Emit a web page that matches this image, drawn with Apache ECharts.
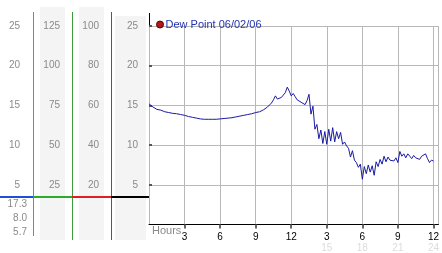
<!DOCTYPE html>
<html><head><meta charset="utf-8">
<script src="https://cdn.jsdelivr.net/npm/echarts@6/dist/echarts.min.js"></script>
<style>html,body{margin:0;padding:0;background:#fff}#c{width:442px;height:253px}</style>
</head><body><div id="c"></div>
<script>
const seriesName = 'Dew Point 06/02/06';
const sampleMinutes = 10;
const dewPoint = [
  15.2, 15.0, 14.8, 14.6, 14.5, 14.4,
  14.4, 14.3, 14.2, 14.1, 14.1, 14.0,
  14.0, 14.0, 13.95, 13.9, 13.85, 13.8,
  13.75, 13.7, 13.6, 13.55, 13.5, 13.45,
  13.4, 13.35, 13.3, 13.3, 13.25, 13.25,
  13.25, 13.25, 13.25, 13.25, 13.25, 13.3,
  13.3, 13.3, 13.35, 13.35, 13.4, 13.4,
  13.45, 13.5, 13.55, 13.6, 13.65, 13.7,
  13.75, 13.8, 13.85, 13.9, 13.95, 14.0,
  14.1, 14.15, 14.2, 14.35, 14.45, 14.55,
  14.8, 15.0, 15.3, 15.7, 16.2, 15.8,
  15.7, 16.0, 16.3, 16.6, 17.3, 16.8,
  16.2, 16.5, 16.1, 15.7, 15.5, 15.4,
  15.3, 15.1, 15.6, 16.4, 13.9, 14.9,
  12.0, 12.6, 10.8, 11.9, 10.2, 11.7,
  10.1, 12.0, 10.5, 12.2, 10.4, 11.7,
  10.8, 11.6, 10.1, 10.4, 9.9, 9.6,
  8.5, 9.3, 8.1, 7.8, 7.2, 7.6,
  5.7, 7.3, 6.4, 7.5, 6.6, 7.4,
  6.2, 7.9, 7.3, 8.2, 7.6, 8.6,
  7.9, 8.5, 8.1, 8.3, 8.0, 8.4,
  7.8, 9.2, 8.6, 8.9, 8.4, 8.9,
  8.6, 8.3, 8.7, 8.4, 8.5, 8.2,
  8.6, 8.5, 8.9, 8.3, 7.8, 8.1,
  8.0
];
const hourTicksTop = {3:'3',6:'6',9:'9',12:'12',15:'3',18:'6',21:'9',24:'12'};
const hourTicksBottom = {15:'15',18:'18',21:'21',24:'24'};
const statValues = ['17.3', '8.0', '5.7'];
const axisCol1 = {min:0, max:25, interval:5};
const axisCol2 = {min:0, max:125, interval:25};
const axisCol3 = {min:0, max:100, interval:20};
const axisCol4 = {min:0, max:25, interval:5};

const points = dewPoint.map((v, i) => [i * sampleMinutes / 60, v]);
const FONT = 'Liberation Sans';
const labelGray = '#8a8a8a';

function leftAxis(cfg, offset, margin) {
  return {
    type: 'value', position: 'left', offset: offset,
    min: cfg.min, max: cfg.max, interval: cfg.interval,
    axisLine: {show: false}, axisTick: {show: false}, splitLine: {show: false},
    axisLabel: {showMinLabel: false, margin: margin, color: labelGray, fontFamily: FONT, fontSize: 10}
  };
}

const chart = echarts.init(document.getElementById('c'), null, {renderer: 'canvas'});
chart.setOption({
  animation: false,
  backgroundColor: '#fff',
  grid: {left: 149, top: 26, width: 293, height: 200, containLabel: false},
  legend: {
    left: 151, top: 14, icon: 'circle', itemWidth: 7, itemHeight: 7,
    data: [{name: seriesName, itemStyle: {color: '#b01818', borderColor: '#5a0000', borderWidth: 1}}],
    textStyle: {color: '#2233b0', fontFamily: FONT, fontSize: 11, padding: [0, 0, 0, -3]}
  },
  xAxis: {
    type: 'value', min: 0, max: 24.42, interval: 3,
    axisLine: {show: true, lineStyle: {color: '#000', width: 1}},
    axisTick: {show: true, length: 4, lineStyle: {color: '#666', width: 2}},
    splitLine: {show: true, lineStyle: {color: '#b8b8b8', width: 1}},
    axisLabel: {
      margin: 7, showMinLabel: false, showMaxLabel: false,
      formatter: v => {
        if (!hourTicksTop[v]) return '';
        return '{a|' + hourTicksTop[v] + '}\n{b|' + (hourTicksBottom[v] || ' ') + '}';
      },
      rich: {
        a: {color: '#000', fontFamily: FONT, fontSize: 10, lineHeight: 11},
        b: {color: '#dcdcdc', fontFamily: FONT, fontSize: 10, lineHeight: 11}
      }
    }
  },
  yAxis: [
    Object.assign(leftAxis(axisCol4, 0, 11), {
      axisTick: {show: true, inside: true, length: 3, lineStyle: {color: '#555', width: 2}},
      splitLine: {show: true, lineStyle: {color: '#b8b8b8', width: 1}}
    }),
    leftAxis(axisCol3, 38, 12),
    leftAxis(axisCol2, 77, 12),
    leftAxis(axisCol1, 116, 13)
  ],
  series: [{
    name: seriesName, type: 'line', data: points, showSymbol: false, symbol: 'none',
    yAxisIndex: 0, lineStyle: {color: '#1a1aa6', width: 1}, itemStyle: {color: '#1a1aa6'}
  }],
  graphic: [
    {type: 'rect', z: -10, shape: {x: 40, y: 7, width: 25, height: 233}, style: {fill: '#f4f4f4'}},
    {type: 'rect', z: -10, shape: {x: 79, y: 7, width: 25, height: 233}, style: {fill: '#f4f4f4'}},
    {type: 'rect', z: -10, shape: {x: 115, y: 16, width: 31, height: 224}, style: {fill: '#f4f4f4'}},
    {type: 'line', shape: {x1: 33.5, y1: 12, x2: 33.5, y2: 236}, style: {stroke: '#3a9ad6', lineWidth: 1}},
    {type: 'line', shape: {x1: 72.5, y1: 12, x2: 72.5, y2: 240}, style: {stroke: '#3c9c3c', lineWidth: 1}},
    {type: 'line', shape: {x1: 111.5, y1: 12, x2: 111.5, y2: 240}, style: {stroke: '#b83030', lineWidth: 1}},
    {type: 'line', shape: {x1: 149.5, y1: 13, x2: 149.5, y2: 224}, style: {stroke: '#000', lineWidth: 1}},
    {type: 'line', shape: {x1: 0, y1: 197, x2: 33, y2: 197}, style: {stroke: '#1f4fd8', lineWidth: 2}},
    {type: 'line', shape: {x1: 33, y1: 197, x2: 72, y2: 197}, style: {stroke: '#2aae2a', lineWidth: 2}},
    {type: 'line', shape: {x1: 72, y1: 197, x2: 111, y2: 197}, style: {stroke: '#e02020', lineWidth: 2}},
    {type: 'line', shape: {x1: 111, y1: 197, x2: 150, y2: 197}, style: {stroke: '#000', lineWidth: 2}},
    {type: 'text', x: 27, y: 204, style: {text: statValues[0], fill: labelGray, font: '10px "Liberation Sans"', textAlign: 'right', textVerticalAlign: 'middle'}},
    {type: 'text', x: 27, y: 218, style: {text: statValues[1], fill: labelGray, font: '10px "Liberation Sans"', textAlign: 'right', textVerticalAlign: 'middle'}},
    {type: 'text', x: 27, y: 232, style: {text: statValues[2], fill: labelGray, font: '10px "Liberation Sans"', textAlign: 'right', textVerticalAlign: 'middle'}},
    {type: 'text', x: 152, y: 231, style: {text: 'Hours', fill: labelGray, font: '11px "Liberation Sans"', textAlign: 'left', textVerticalAlign: 'middle'}}
  ]
});
</script>
</body></html>
